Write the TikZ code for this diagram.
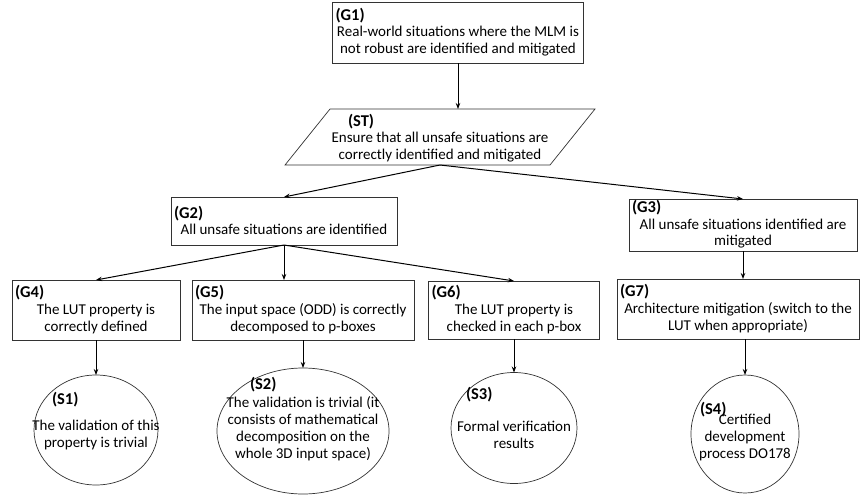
\documentclass[tikz,border=0pt]{standalone}
\usepackage{fontspec}
\setmainfont{Carlito}
\usetikzlibrary{arrows.meta,positioning,shapes.geometric}

\newcommand{\gbody}[3][-3pt]{\makebox[1pt]{\raisebox{#1}[0.5pt][0.5pt]{\parbox{#2}{#3}}}}
\newcommand{\gtag}[1]{\leftline{\fontsize{16.5}{16.7}\selectfont\bfseries #1}}

\begin{document}
\begin{tikzpicture}[>={Stealth[length=6pt,width=4.5pt]}, node distance=3cm, on grid,
	every node/.style={inner sep=0pt, outer sep=0pt, font=\fontsize{15}{16.7}\selectfont},
	goal/.style={draw=black!80, line width=0.7pt, rectangle},
	strat/.style={rectangle},
	stratline/.style={draw=black!80, line width=0.7pt, line join=miter},
	sol/.style={draw=black!80, line width=0.7pt, ellipse}]
	\useasboundingbox (0,0) rectangle (860pt,-496pt);

	\node[goal, minimum width=251pt, minimum height=61pt] (G1) at (458pt,-32.5pt)
		{\gbody{245pt}{\gtag{(G1)}\centerline{Real-world situations where the MLM is}\centerline{not robust are identified and mitigated}}};
	\node[strat, minimum width=265pt, minimum height=56pt] (ST) [below=104.5pt of G1, xshift=-18pt]
		{\gbody[-4.7pt]{184pt}{\gtag{(ST)}\centerline{Ensure that all unsafe situations are}\centerline{correctly identified and mitigated}}};
	\draw[stratline] ([xshift=-22.5pt]ST.south west) -- ([xshift=22.5pt]ST.north west)
		-- ([xshift=22.5pt]ST.north east) -- ([xshift=-22.5pt]ST.south east) -- cycle;
	\node[goal, minimum width=226pt, minimum height=48pt] (G2) [below left=84pt and 156pt of ST]
		{\gbody{220pt}{\gtag{(G2)}\centerline{All unsafe situations are identified}}};
	\node[goal, minimum width=228pt, minimum height=52pt] (G3) [below right=88pt and 303pt of ST]
		{\gbody{222pt}{\gtag{(G3)}\centerline{All unsafe situations identified are}\centerline{mitigated}}};
	\node[goal, minimum width=168pt, minimum height=60pt] (G4) [below left=89pt and 188pt of G2]
		{\gbody{162pt}{\gtag{(G4)}\centerline{The LUT property is}\centerline{correctly defined}}};
	\node[goal, minimum width=222pt, minimum height=60pt] (G5) [below right=89pt and 19pt of G2]
		{\gbody{216pt}{\gtag{(G5)}\centerline{The input space (ODD) is correctly}\centerline{decomposed to p-boxes}}};
	\node[goal, minimum width=171pt, minimum height=58pt] (G6) [below right=89pt and 230pt of G2]
		{\gbody{165pt}{\gtag{(G6)}\centerline{The LUT property is}\centerline{checked in each p-box}}};
	\node[goal, minimum width=242pt, minimum height=60pt] (G7) [below left=84pt and 5pt of G3]
		{\gbody{236pt}{\gtag{(G7)}\centerline{Architecture mitigation (switch to the}\centerline{LUT when appropriate)}}};

	\node[sol, minimum width=124pt, minimum height=110pt] (S1) [below=120pt of G4]
		{\gbody[5.3pt]{88pt}{\gtag{(S1)}\vspace{9.3pt}\centerline{The validation of this}\centerline{property is trivial}}};
	\node[sol, minimum width=172pt, minimum height=126pt] (S2) [below=121pt of G5]
		{\gbody[8.3pt]{106pt}{\gtag{(S2)}\vspace{1.3pt}\centerline{The validation is trivial (it}\centerline{consists of mathematical}\centerline{decomposition on the}\centerline{whole 3D input space)}}};
	\node[sol, minimum width=126pt, minimum height=111pt] (S3) [below=118pt of G6]
		{\gbody[6.8pt]{96pt}{\gtag{(S3)}\vspace{15.3pt}\centerline{Formal verification}\centerline{results}}};
	\node[sol, minimum width=108pt, minimum height=118pt] (S4) [below right=125pt and 7pt of G7]
		{\gbody[-1.2pt]{90pt}{\gtag{(S4)}\vspace{-6.7pt}\centerline{Certified}\centerline{development}\centerline{process DO178}}};

	\path[->, line width=1pt]
		(G1.south) edge (G1.south |- ST.north)
		(ST.south) edge (G2.north)
		(ST.south) edge (G3.north)
		(G2.south) edge (G4.north)
		(G2.south) edge (G2.south |- G5.north)
		(G2.south) edge (G6.north)
		(G3.south) edge (G3.south |- G7.north)
		(G4) edge (S1)
		(G5) edge (S2)
		(G6) edge (S3)
		(S4 |- G7.south) edge (S4)
	;
\end{tikzpicture}
\end{document}
